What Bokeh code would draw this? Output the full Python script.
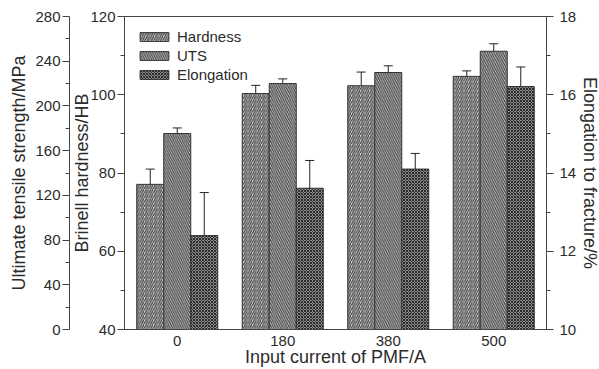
from bokeh.plotting import figure
from bokeh.models import (Range1d, LinearAxis, FixedTicker, Whisker, TeeHead,
                          ColumnDataSource, Legend, LegendItem, FactorRange)
from bokeh.transform import dodge
from bokeh.embed import file_html
from bokeh.resources import INLINE

# ---- data ----
currents = ["0", "180", "380", "500"]
hardness = [77.1, 100.3, 102.3, 104.7]
hardness_err = [3.9, 2.1, 3.5, 1.4]
uts = [175.3, 220.0, 229.9, 248.9]
uts_err = [5.0, 4.2, 6.0, 6.7]
elong = [12.40, 13.61, 14.10, 16.21]
elong_err = [1.10, 0.71, 0.40, 0.50]

hb_ticks = [40, 60, 80, 100, 120]
uts_ticks = [0, 40, 80, 120, 160, 200, 240, 280]
el_ticks = [10, 12, 14, 16, 18]

src = ColumnDataSource(dict(
    x=currents,
    hb=hardness, hb_lo=[v - e for v, e in zip(hardness, hardness_err)],
    hb_hi=[v + e for v, e in zip(hardness, hardness_err)],
    uts=uts, uts_lo=[v - e for v, e in zip(uts, uts_err)],
    uts_hi=[v + e for v, e in zip(uts, uts_err)],
    el=elong, el_lo=[v - e for v, e in zip(elong, elong_err)],
    el_hi=[v + e for v, e in zip(elong, elong_err)],
))

FONT = "Liberation Sans"
TXT = "#2b2b2b"
LN = "#444444"

p = figure(x_range=FactorRange(*currents), y_range=Range1d(hb_ticks[0], hb_ticks[-1]),
           frame_width=422, frame_height=313, output_backend="svg", toolbar_location=None,
           min_border_left=124, min_border_right=48, min_border_top=16,
           min_border_bottom=38)
p.x_range.range_padding = 0
p.extra_y_ranges = {"uts": Range1d(uts_ticks[0], uts_ticks[-1]),
                    "el": Range1d(el_ticks[0], el_ticks[-1])}
p.xgrid.grid_line_color = None
p.ygrid.grid_line_color = None
p.outline_line_color = LN
p.outline_line_width = 1
p.background_fill_color = "white"
p.border_fill_color = "white"

W = 0.256
bar_common = dict(width=W, source=src, line_color="#333333", line_width=1)

r_hb = p.vbar(x=dodge("x", -W, range=p.x_range), top="hb", bottom=hb_ticks[0],
              fill_color="#d4d4d4", hatch_pattern="right_diagonal_line",
              hatch_color="#4a4a4a", hatch_scale=4.5, hatch_weight=1.3, **bar_common)
r_uts = p.vbar(x=dodge("x", 0, range=p.x_range), top="uts", bottom=uts_ticks[0],
               y_range_name="uts",
               fill_color="#d4d4d4", hatch_pattern="left_diagonal_line",
               hatch_color="#4a4a4a", hatch_scale=4.5, hatch_weight=1.3, **bar_common)
r_el = p.vbar(x=dodge("x", W, range=p.x_range), top="el", bottom=el_ticks[0],
              y_range_name="el",
              fill_color="#8a8a8a", hatch_pattern="diagonal_cross",
              hatch_color="#2a2a2a", hatch_scale=3, hatch_weight=1, **bar_common)

def add_whisker(xoff, lo, hi, rng=None):
    kw = {}
    if rng:
        kw["y_range_name"] = rng
    w = Whisker(base=dodge("x", xoff, range=p.x_range), lower=lo, upper=hi, source=src,
                line_color="#222222", line_width=1,
                upper_head=TeeHead(size=9, line_color="#222222", line_width=1),
                lower_head=TeeHead(size=9, line_color="#222222", line_width=1), **kw)
    p.add_layout(w)

add_whisker(-W, "hb_lo", "hb_hi")
add_whisker(0, "uts_lo", "uts_hi", "uts")
add_whisker(W, "el_lo", "el_hi", "el")

# axes
hb_axis = p.yaxis[0]
hb_axis.ticker = FixedTicker(ticks=hb_ticks, minor_ticks=[50, 70, 90, 110])
hb_axis.axis_label = "Brinell hardness/HB"

uts_axis = LinearAxis(y_range_name="uts", axis_label="Ultimate tensile strength/MPa",
                      ticker=FixedTicker(ticks=uts_ticks,
                                         minor_ticks=[20, 60, 100, 140, 180, 220, 260]))
p.add_layout(uts_axis, "left")

el_axis = LinearAxis(y_range_name="el", axis_label="Elongation to fracture/%",
                     ticker=FixedTicker(ticks=el_ticks, minor_ticks=[11, 13, 15, 17]))
p.add_layout(el_axis, "right")

for ax in [hb_axis, uts_axis, el_axis]:
    ax.axis_line_color = LN
    ax.major_tick_line_color = LN
    ax.minor_tick_line_color = LN
    ax.major_tick_out = 7
    ax.major_tick_in = 0
    ax.minor_tick_out = 4
    ax.minor_tick_in = 0
    ax.major_label_standoff = 2
    ax.axis_label_standoff = 3
    ax.major_label_text_font = FONT
    ax.major_label_text_font_size = "15px"
    ax.major_label_text_color = TXT
    ax.axis_label_text_font = FONT
    ax.axis_label_text_font_size = "18px"
    ax.axis_label_text_font_style = "normal"
    ax.axis_label_text_color = TXT
hb_axis.axis_label_standoff = -5
el_axis.major_label_standoff = 6
el_axis.axis_label_standoff = 1

xa = p.xaxis[0]
xa.axis_label = "Input current of PMF/A"
xa.axis_line_color = LN
xa.major_tick_line_color = None
xa.minor_tick_line_color = None
xa.major_tick_out = 0
xa.major_tick_in = 0
xa.major_label_standoff = 6
xa.axis_label_standoff = -2
xa.major_label_text_font = FONT
xa.major_label_text_font_size = "15px"
xa.major_label_text_color = TXT
xa.axis_label_text_font = FONT
xa.axis_label_text_font_size = "18px"
xa.axis_label_text_font_style = "normal"
xa.axis_label_text_color = TXT

legend = Legend(items=[LegendItem(label="Hardness", renderers=[r_hb]),
                       LegendItem(label="UTS", renderers=[r_uts]),
                       LegendItem(label="Elongation", renderers=[r_el])],
                location="top_left", margin=0, padding=12, spacing=2,
                glyph_width=36, glyph_height=11, label_height=15,
                label_standoff=5,
                label_text_font=FONT, label_text_font_size="15px",
                label_text_color=TXT, border_line_alpha=0,
                background_fill_alpha=0)
p.add_layout(legend)

open("out.html", "w").write(file_html(p, INLINE))
